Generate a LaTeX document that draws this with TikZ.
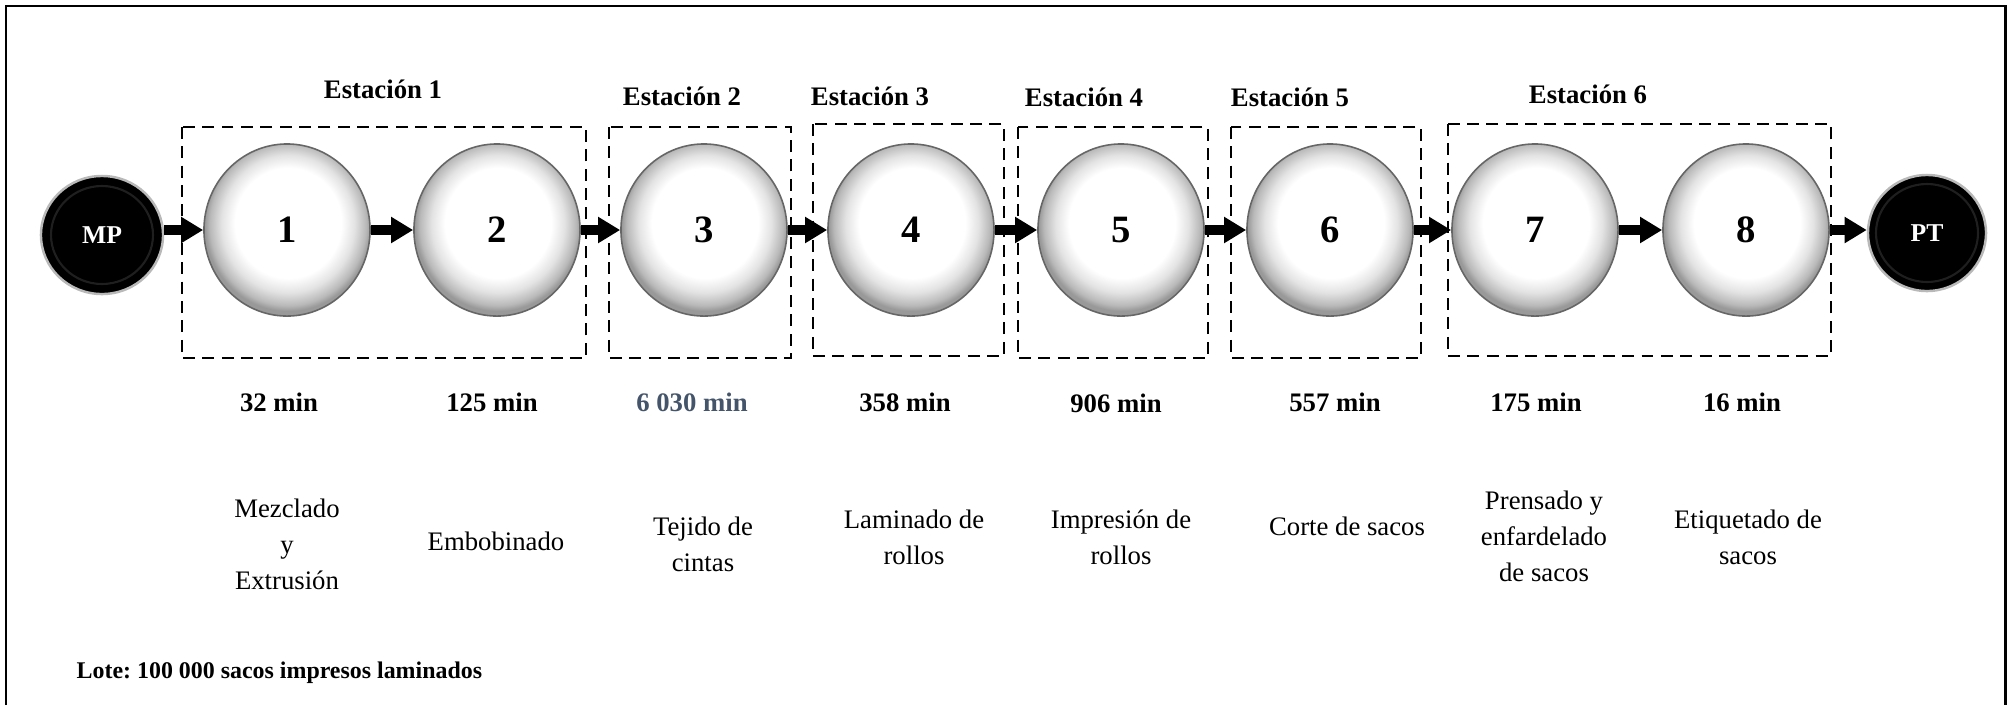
\documentclass[tikz,border=0pt]{standalone}
\usepackage{fontspec}
\setmainfont{Liberation Serif}
\frenchspacing
\usetikzlibrary{shapes.geometric,arrows.meta}
\definecolor{slate}{HTML}{44546A}
\pgfdeclareradialshading{btn}{\pgfpoint{0.5bp}{3bp}}{color(0bp)=(white); color(16bp)=(white); color(20bp)=(gray!22); color(23.5bp)=(gray!55); color(25bp)=(gray!80); color(50bp)=(gray!80)}
\tikzset{
  proc/.style={ellipse, minimum width=1.66cm, minimum height=1.72cm, inner sep=0pt,
    shading=btn, draw=gray!80!black, line width=0.45pt, font=\fontsize{11}{13}\selectfont\bfseries},
  term/.style={ellipse, inner sep=0pt, fill=black, draw=gray!55, line width=0.7pt,
    text=white, font=\fontsize{7.3}{9}\selectfont\bfseries,
    path picture={\draw[black!88!white, line width=0.6pt] (path picture bounding box.center) ellipse [x radius=51, y radius=49];}},
  stbox/.style={draw, dash pattern=on 3.4pt off 2.1pt, line width=0.6pt},
  sttitle/.style={font=\fontsize{7.6}{9}\selectfont\bfseries, inner sep=0pt},
  timelbl/.style={font=\fontsize{7.6}{9}\selectfont\bfseries, inner sep=0pt},
  desc/.style={align=center, inner sep=0pt, font=\fontsize{7.6}{10.2}\selectfont},
  arr/.style={line width=2.6pt, -{Triangle[length=6.3pt,width=7.1pt]}},
}
\begin{document}
\begin{tikzpicture}[x=0.01cm, y=-0.01cm]
\useasboundingbox (0,0) rectangle (2011,705);
% frame (no bottom edge visible)
\draw[line width=0.72pt] (6,705) -- (6,6) -- (2005.5,6) -- (2005.5,705);

% station boxes
\draw[stbox] (182,127) rectangle (586,358);
\draw[stbox] (609,127) rectangle (791,358);
\draw[stbox] (813,124) rectangle (1004,356);
\draw[stbox] (1018,127) rectangle (1208,358);
\draw[stbox] (1231,127) rectangle (1421,358);
\draw[stbox] (1448,124) rectangle (1831,356);

% station titles
\node[sttitle] (st1) at (383,89) {Estación 1};
\node[sttitle] (st2) at (682,96) {Estación 2};
\node[sttitle] (st3) at (870,96) {Estación 3};
\node[sttitle] (st4) at (1084,97) {Estación 4};
\node[sttitle] (st5) at (1290,97) {Estación 5};
\node[sttitle] (st6) at (1588,94) {Estación 6};

% nodes
\node[term, minimum width=1.22cm, minimum height=1.18cm] (mp) at (102,235) {MP};
\node[proc] (c1) at (287,230) {1};
\node[proc] (c2) at (497,230) {2};
\node[proc] (c3) at (704,230) {3};
\node[proc] (c4) at (911,230) {4};
\node[proc] (c5) at (1121,230) {5};
\node[proc] (c6) at (1330,230) {6};
\node[proc] (c7) at (1535,230) {7};
\node[proc] (c8) at (1746,230) {8};
\node[term, minimum width=1.18cm, minimum height=1.16cm] (pt) at (1927,233) {PT};

% arrows
\draw[arr] (mp.east |- c1.west) -- (c1.west);
\draw[arr] (c1) -- (c2);
\draw[arr] (c2) -- (c3);
\draw[arr] (c3) -- (c4);
\draw[arr] (c4) -- (c5);
\draw[arr] (c5) -- (c6);
\draw[arr] (c6) -- (c7);
\draw[arr] (c7) -- (c8);
\draw[arr] (c8.east) -- (pt.west |- c8.east);

% times
\node[timelbl] (t1) at (279,402) {32 min};
\node[timelbl] (t2) at (492,402) {125 min};
\node[timelbl, text=slate] (t3) at (692,402) {6 030 min};
\node[timelbl] (t4) at (905,402) {358 min};
\node[timelbl] (t5) at (1116,403) {906 min};
\node[timelbl] (t6) at (1335,402) {557 min};
\node[timelbl] (t7) at (1536,402) {175 min};
\node[timelbl] (t8) at (1742,402) {16 min};

% descriptions
\node[desc] (d1) at (287,544) {Mezclado\\y\\Extrusión};
\node[desc] (d2) at (496,541) {Embobinado};
\node[desc] (d3) at (703,544) {Tejido de\\cintas};
\node[desc] (d4) at (914,537) {Laminado de\\rollos};
\node[desc] (d5) at (1121,537) {Impresión de\\rollos};
\node[desc] (d6) at (1347,526) {Corte de sacos};
\node[desc] (d7) at (1544,536) {Prensado y\\enfardelado\\de sacos};
\node[desc] (d8) at (1748,537) {Etiquetado de\\sacos};

% lote
\node[anchor=west, inner sep=0pt, font=\fontsize{6.8}{8}\selectfont\bfseries] (lote) at (76,673) {Lote: 100 000 sacos impresos laminados};
\end{tikzpicture}
\end{document}
